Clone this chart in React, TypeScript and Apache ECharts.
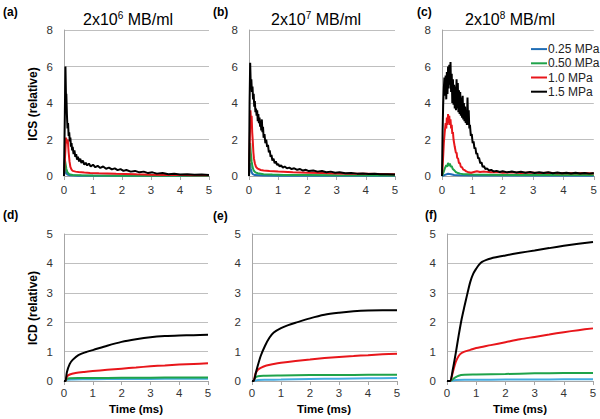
import React, { useEffect, useRef } from "react";
import * as echarts from "echarts";

// ---------- DATA ----------
const pressures = ["0.25 MPa", "0.50 MPa", "1.0 MPa", "1.5 MPa"];
const titlesBase = ["2x10", "2x10", "2x10"];
const titlesExp = ["6", "7", "8"];
const panelLabels = ["(a)", "(b)", "(c)", "(d)", "(e)", "(f)"];
const xTicks = [0, 1, 2, 3, 4, 5];

// (a) ICS, 2x10^6
const icsA_025 = [[0,0],[0.03,0.4],[0.05,0.3],[0.08,0.15],[0.12,0.08],[0.2,0.04],[0.5,0.02],[5,0.01]];
const icsA_050 = [[0,0],[0.03,0.9],[0.05,0.7],[0.08,0.4],[0.12,0.2],[0.18,0.1],[0.3,0.06],[0.6,0.04],[1,0.03],[2,0.02],[5,0.02]];
const icsA_10 = [[0,0],[0.04,1.2],[0.07,2.1],[0.1,1.8],[0.13,2.0],[0.16,1.3],[0.19,0.8],[0.22,0.5],[0.26,0.35],[0.3,0.28],[0.4,0.24],[0.5,0.22],[0.7,0.19],[0.9,0.17],[1.2,0.15],[1.5,0.14],[1.8,0.12],[2.1,0.11],[2.5,0.09],[3,0.07],[3.5,0.06],[4,0.05],[4.5,0.04],[5,0.04]];
const icsA_15 = [[0,0],[0.03,3.5],[0.05,6.0],[0.07,4.2],[0.08,4.5],[0.1,3.4],[0.12,2.6],[0.14,2.9],[0.16,2.2],[0.18,2.4],[0.2,1.9],[0.22,2.1],[0.24,1.6],[0.26,1.8],[0.28,1.4],[0.3,1.6],[0.33,1.2],[0.36,1.4],[0.39,1.05],[0.42,1.2],[0.45,0.9],[0.48,1.05],[0.52,0.8],[0.56,0.95],[0.6,0.72],[0.65,0.85],[0.7,0.62],[0.75,0.72],[0.8,0.58],[0.86,0.68],[0.92,0.52],[1.0,0.62],[1.08,0.48],[1.16,0.56],[1.25,0.44],[1.35,0.52],[1.45,0.4],[1.55,0.46],[1.65,0.36],[1.75,0.42],[1.85,0.32],[1.95,0.38],[2.05,0.28],[2.15,0.33],[2.3,0.24],[2.45,0.28],[2.6,0.2],[2.75,0.24],[2.9,0.16],[3.05,0.2],[3.2,0.13],[3.4,0.16],[3.6,0.1],[3.8,0.12],[4.0,0.08],[4.25,0.1],[4.5,0.07],[4.75,0.08],[5,0.06]];

// (b) ICS, 2x10^7
const icsB_025 = [[0,0],[0.02,0.5],[0.04,0.7],[0.06,0.4],[0.09,0.2],[0.13,0.1],[0.2,0.05],[0.5,0.03],[1,0.02],[5,0.01]];
const icsB_050 = [[0,0],[0.02,1.0],[0.04,1.8],[0.06,1.3],[0.09,0.8],[0.12,0.5],[0.16,0.3],[0.22,0.2],[0.3,0.15],[0.5,0.1],[0.8,0.08],[1.2,0.06],[2,0.05],[3,0.04],[5,0.03]];
const icsB_10 = [[0,0],[0.02,1.5],[0.05,3.6],[0.07,3.0],[0.09,3.3],[0.11,2.4],[0.13,1.9],[0.15,1.3],[0.17,0.95],[0.2,0.7],[0.24,0.5],[0.3,0.4],[0.4,0.33],[0.5,0.3],[0.7,0.27],[1,0.24],[1.5,0.2],[2,0.18],[2.5,0.16],[3,0.14],[3.5,0.13],[4,0.12],[4.5,0.11],[5,0.1]];
const icsB_15 = [[0,0],[0.02,4.0],[0.04,6.2],[0.06,5.0],[0.08,5.3],[0.1,4.6],[0.12,4.9],[0.14,4.2],[0.16,4.5],[0.18,3.8],[0.2,4.1],[0.22,3.5],[0.24,3.7],[0.26,3.3],[0.28,3.6],[0.3,3.0],[0.32,3.4],[0.34,2.9],[0.36,3.2],[0.38,2.7],[0.4,3.0],[0.42,2.5],[0.44,3.1],[0.46,2.4],[0.48,2.7],[0.5,2.1],[0.53,2.3],[0.56,1.8],[0.59,2.0],[0.62,1.6],[0.65,1.7],[0.68,1.3],[0.71,1.4],[0.74,1.05],[0.77,1.15],[0.8,0.85],[0.84,0.95],[0.88,0.7],[0.92,0.8],[0.96,0.6],[1.0,0.66],[1.05,0.52],[1.1,0.58],[1.16,0.46],[1.22,0.52],[1.3,0.42],[1.38,0.46],[1.46,0.38],[1.55,0.42],[1.65,0.34],[1.75,0.38],[1.85,0.3],[1.95,0.34],[2.05,0.27],[2.2,0.3],[2.35,0.24],[2.5,0.27],[2.65,0.21],[2.8,0.24],[2.95,0.18],[3.1,0.2],[3.3,0.15],[3.5,0.17],[3.7,0.13],[3.9,0.14],[4.1,0.11],[4.3,0.12],[4.5,0.09],[4.75,0.1],[5,0.08]];

// (c) ICS, 2x10^8
const icsC_025 = [[0,0],[0.1,0.06],[0.2,0.12],[0.3,0.1],[0.4,0.06],[0.6,0.04],[1,0.03],[5,0.02]];
const icsC_050 = [[0,0],[0.05,0.2],[0.1,0.45],[0.14,0.6],[0.17,0.5],[0.2,0.72],[0.23,0.55],[0.26,0.68],[0.29,0.5],[0.32,0.55],[0.35,0.4],[0.4,0.32],[0.45,0.22],[0.5,0.18],[0.6,0.13],[0.7,0.1],[0.85,0.09],[1,0.08],[1.5,0.07],[2,0.06],[3,0.06],[4,0.05],[5,0.05]];
const icsC_10 = [[0,0],[0.03,0.8],[0.06,1.8],[0.09,2.4],[0.12,2.9],[0.14,2.6],[0.16,3.2],[0.18,2.8],[0.2,3.4],[0.22,2.9],[0.24,3.3],[0.26,2.8],[0.28,3.1],[0.3,2.6],[0.32,2.8],[0.34,2.3],[0.36,2.4],[0.38,2.0],[0.4,2.0],[0.42,1.6],[0.44,1.6],[0.46,1.25],[0.48,1.3],[0.5,1.0],[0.53,0.95],[0.56,0.7],[0.59,0.72],[0.62,0.5],[0.66,0.48],[0.7,0.35],[0.75,0.32],[0.8,0.25],[0.88,0.2],[0.96,0.18],[1.05,0.22],[1.15,0.26],[1.25,0.22],[1.4,0.24],[1.6,0.2],[1.8,0.22],[2.0,0.18],[2.3,0.2],[2.6,0.17],[2.9,0.19],[3.2,0.16],[3.5,0.18],[3.8,0.15],[4.1,0.17],[4.4,0.15],[4.7,0.16],[5,0.14]];
const icsC_15 = [[0,0],[0.02,2.5],[0.04,4.0],[0.06,4.8],[0.08,5.4],[0.1,4.4],[0.12,5.5],[0.14,4.2],[0.16,5.7],[0.18,4.5],[0.2,6.0],[0.22,4.8],[0.24,6.1],[0.26,5.0],[0.28,6.25],[0.3,4.6],[0.32,5.6],[0.34,4.0],[0.36,5.3],[0.38,3.9],[0.4,5.0],[0.42,3.7],[0.44,4.9],[0.46,3.6],[0.48,5.3],[0.5,3.7],[0.52,5.1],[0.54,3.5],[0.56,4.7],[0.58,3.4],[0.6,4.6],[0.62,3.3],[0.64,4.3],[0.66,3.2],[0.68,4.4],[0.7,3.1],[0.72,4.0],[0.74,3.0],[0.76,3.8],[0.78,2.9],[0.8,3.5],[0.82,2.8],[0.84,4.3],[0.86,2.8],[0.88,3.6],[0.9,2.6],[0.92,2.8],[0.95,2.2],[0.98,2.3],[1.01,1.8],[1.04,1.9],[1.07,1.5],[1.1,1.55],[1.13,1.2],[1.16,1.25],[1.19,0.95],[1.22,1.0],[1.26,0.7],[1.3,0.75],[1.34,0.5],[1.38,0.55],[1.43,0.38],[1.48,0.42],[1.55,0.3],[1.62,0.33],[1.7,0.25],[1.8,0.28],[1.9,0.22],[2.0,0.26],[2.15,0.2],[2.3,0.25],[2.45,0.19],[2.6,0.23],[2.75,0.18],[2.9,0.22],[3.05,0.17],[3.2,0.21],[3.35,0.16],[3.5,0.2],[3.65,0.15],[3.8,0.19],[3.95,0.15],[4.1,0.18],[4.25,0.14],[4.4,0.18],[4.55,0.14],[4.7,0.17],[4.85,0.13],[5,0.16]];

// (d) ICD, 2x10^6
const icdD_025 = [[0,0],[0.05,0],[0.1,0.04],[0.3,0.05],[1,0.06],[2,0.07],[3,0.07],[4,0.08],[5,0.08]];
const icdD_050 = [[0,0],[0.05,0],[0.1,0.07],[0.2,0.09],[0.5,0.1],[1,0.1],[2,0.11],[3,0.11],[4,0.12],[5,0.12]];
const icdD_10 = [[0,0],[0.05,0],[0.1,0.15],[0.2,0.22],[0.4,0.27],[0.7,0.31],[1,0.34],[1.5,0.38],[2,0.42],[2.5,0.46],[3,0.5],[3.5,0.53],[4,0.56],[4.5,0.58],[5,0.6]];
const icdD_15 = [[0,0],[0.05,0],[0.1,0.3],[0.2,0.58],[0.3,0.72],[0.5,0.88],[0.75,0.98],[1,1.05],[1.5,1.2],[2,1.33],[2.5,1.42],[3,1.49],[3.5,1.53],[4,1.55],[4.5,1.56],[5,1.57]];

// (e) ICD, 2x10^7
const icdE_025 = [[0,0],[0.05,0],[0.2,0.03],[0.5,0.04],[1,0.05],[2,0.07],[3,0.08],[4,0.09],[5,0.1]];
const icdE_050 = [[0,0],[0.05,0],[0.1,0.1],[0.2,0.16],[0.4,0.18],[1,0.19],[2,0.2],[3,0.2],[4,0.21],[5,0.21]];
const icdE_10 = [[0,0],[0.05,0],[0.12,0.25],[0.2,0.38],[0.3,0.45],[0.5,0.53],[0.75,0.58],[1,0.62],[1.5,0.68],[2,0.73],[2.5,0.78],[3,0.82],[3.5,0.85],[4,0.88],[4.5,0.91],[5,0.93]];
const icdE_15 = [[0,0],[0.05,0],[0.15,0.35],[0.3,0.85],[0.45,1.2],[0.6,1.47],[0.75,1.65],[1,1.8],[1.25,1.9],[1.5,1.98],[2,2.13],[2.5,2.25],[3,2.32],[3.5,2.37],[4,2.4],[4.5,2.41],[5,2.41]];

// (f) ICD, 2x10^8
const icdF_025 = [[0,0],[0.1,0],[0.3,0.03],[0.6,0.04],[1,0.04],[2,0.05],[3,0.05],[4,0.06],[5,0.06]];
const icdF_050 = [[0,0],[0.1,0],[0.25,0.1],[0.4,0.18],[0.6,0.21],[1,0.22],[2,0.24],[3,0.26],[4,0.27],[5,0.27]];
const icdF_10 = [[0,0],[0.1,0],[0.2,0.3],[0.3,0.65],[0.4,0.85],[0.5,0.95],[0.6,1.0],[0.8,1.06],[1,1.12],[1.5,1.22],[2,1.32],[2.5,1.42],[3,1.5],[3.5,1.58],[4,1.66],[4.5,1.73],[5,1.79]];
const icdF_15 = [[0,0],[0.1,0],[0.2,0.4],[0.3,0.95],[0.4,1.55],[0.5,2.1],[0.6,2.55],[0.7,2.98],[0.8,3.38],[0.9,3.65],[1,3.82],[1.1,3.96],[1.2,4.05],[1.35,4.12],[1.5,4.17],[2,4.27],[2.5,4.36],[3,4.44],[3.5,4.52],[4,4.6],[4.5,4.67],[5,4.73]];

const panelData = [
  [icsA_025, icsA_050, icsA_10, icsA_15],
  [icsB_025, icsB_050, icsB_10, icsB_15],
  [icsC_025, icsC_050, icsC_10, icsC_15],
  [icdD_025, icdD_050, icdD_10, icdD_15],
  [icdE_025, icdE_050, icdE_10, icdE_15],
  [icdF_025, icdF_050, icdF_10, icdF_15],
];

// ---------- STYLE / LAYOUT ----------
const FONT = "'Liberation Sans', Arial, sans-serif";
const topColors = ["#1F6DB5", "#1FA34A", "#E8161B", "#000000"];
const botColors = ["#45ACE0", "#1FA34A", "#E8161B", "#000000"];
const grids = [
  { left: 64, top: 30, width: 145, height: 146 },
  { left: 249, top: 30, width: 146, height: 146 },
  { left: 442, top: 30, width: 152, height: 146 },
  { left: 64, top: 234, width: 144, height: 147 },
  { left: 252, top: 234, width: 145, height: 147 },
  { left: 447, top: 234, width: 146, height: 147 },
];
const titleX = [128, 316, 510];
const labelPos = [[3, 12], [213, 12], [417, 12], [3, 215], [213, 216], [425, 215]];
const timeX = [136, 324, 520];

export default function App() {
  const ref = useRef<HTMLDivElement>(null);
  useEffect(() => {
    if (!ref.current) return;
    const chart = echarts.init(ref.current, undefined, { renderer: "svg" });
    const xAxis: any[] = [];
    const yAxis: any[] = [];
    const series: any[] = [];
    grids.forEach((g, i) => {
      const top = i < 3;
      xAxis.push({
        type: "value", gridIndex: i, min: 0, max: 5, interval: 1,
        axisLine: { show: true, lineStyle: { color: "#a6a6a6", width: 1 } },
        axisTick: { show: true, length: 4, lineStyle: { color: "#a6a6a6" } },
        axisLabel: { fontSize: 11.5, color: "#333", fontFamily: FONT, margin: top ? 8 : 6,
          formatter: (v: number) => (xTicks.includes(v) ? String(v) : "") },
        splitLine: { show: false },
      });
      yAxis.push({
        type: "value", gridIndex: i, min: 0, max: top ? 8 : 5, interval: top ? 2 : 1,
        axisLine: { show: true, lineStyle: { color: "#a6a6a6", width: 1 } },
        axisTick: { show: false },
        axisLabel: { fontSize: 11.5, color: "#333", fontFamily: FONT, margin: 11 },
        splitLine: { show: true, lineStyle: { color: "#bfbfbf", width: 1 } },
      });
      panelData[i].forEach((d, k) => {
        series.push({
          type: "line", name: pressures[k], xAxisIndex: i, yAxisIndex: i,
          data: d, showSymbol: false, symbol: "none", smooth: top ? false : 0.3,
          lineStyle: { width: top ? 2 : 2, color: top ? topColors[k] : botColors[k] },
          itemStyle: { color: top ? topColors[k] : botColors[k] },
          clip: true,
        });
      });
    });
    const graphic: any[] = [];
    titleX.forEach((x, i) => {
      graphic.push({
        type: "text", x, y: 19,
        style: {
          text: `{a|${titlesBase[i]}}{s|${titlesExp[i]}}{a| MB/ml}`,
          align: "center", verticalAlign: "middle",
          rich: {
            a: { fontSize: 16, fontFamily: FONT, fill: "#000", lineHeight: 18 },
            s: { fontSize: 10, fontFamily: FONT, fill: "#000", lineHeight: 10, verticalAlign: "top" },
          },
        },
      });
    });
    panelLabels.forEach((t, i) => {
      graphic.push({ type: "text", x: labelPos[i][0], y: labelPos[i][1],
        style: { text: t, font: `bold 12px ${FONT}`, fill: "#000", verticalAlign: "middle" } });
    });
    graphic.push({ type: "text", x: 33, y: 104, rotation: Math.PI / 2,
      style: { text: "ICS (relative)", font: `bold 12px ${FONT}`, fill: "#000", align: "center", verticalAlign: "middle" } });
    graphic.push({ type: "text", x: 33, y: 308, rotation: Math.PI / 2,
      style: { text: "ICD (relative)", font: `bold 12px ${FONT}`, fill: "#000", align: "center", verticalAlign: "middle" } });
    timeX.forEach((x) => {
      graphic.push({ type: "text", x, y: 409,
        style: { text: "Time (ms)", font: `bold 11.5px ${FONT}`, fill: "#000", align: "center", verticalAlign: "middle" } });
    });
    chart.setOption({
      animation: false,
      grid: grids.map((g) => ({ ...g, containLabel: false })),
      xAxis, yAxis, series, graphic,
      legend: {
        data: pressures, orient: "vertical", left: 526, top: 37,
        icon: "rect", itemWidth: 16, itemHeight: 2, itemGap: 0,
        textStyle: { fontSize: 12, fontFamily: FONT, color: "#222", lineHeight: 14.2, padding: [0, 0, 0, -4] },
        selectedMode: false,
      },
    });
    return () => chart.dispose();
  }, []);
  return (
    <div ref={ref} style={{ position: "fixed", left: 0, top: 0, width: 600, height: 419, background: "#fff" }} />
  );
}
